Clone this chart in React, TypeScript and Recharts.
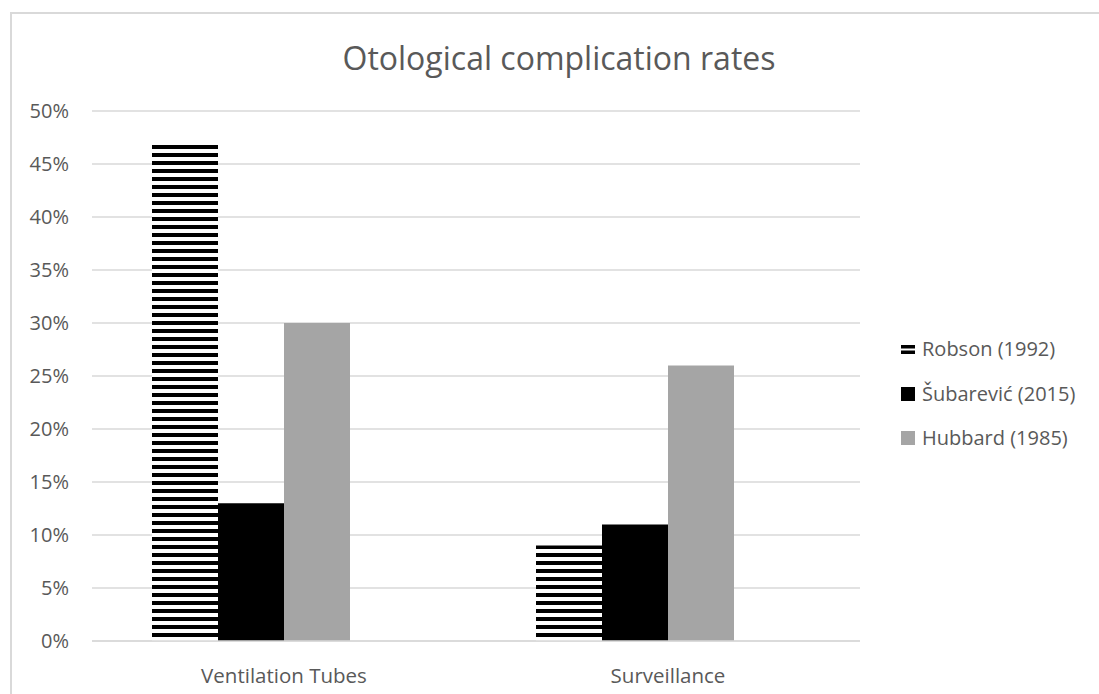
import React from "react";
import { BarChart, Bar, XAxis, YAxis, CartesianGrid } from "recharts";

const categories = ["Ventilation Tubes", "Surveillance"];
const robson = [0.47, 0.09];
const subarevic = [0.13, 0.11];
const hubbard = [0.3, 0.26];
const yTicks = [0, 0.05, 0.1, 0.15, 0.2, 0.25, 0.3, 0.35, 0.4, 0.45, 0.5];
const seriesNames = ["Robson (1992)", "Šubarević (2015)", "Hubbard (1985)"];

const data = categories.map((c, i) => ({
  name: c,
  robson: robson[i],
  subarevic: subarevic[i],
  hubbard: hubbard[i],
  blank: null as number | null,
}));

const FONT = "'Open Sans', sans-serif";
const TEXT = "#595959";

function LegendIcon({ kind }: { kind: number }) {
  if (kind === 0) {
    return (
      <svg width={14} height={14} style={{ display: "block" }}>
        <rect x={0} y={3} width={14} height={3.5} fill="#000" />
        <rect x={0} y={8.5} width={14} height={3.5} fill="#000" />
      </svg>
    );
  }
  return (
    <svg width={14} height={14} style={{ display: "block" }}>
      <rect x={0} y={0} width={14} height={14} fill={kind === 1 ? "#000" : "#a5a5a5"} />
    </svg>
  );
}

export default function App() {
  return (
    <div style={{ position: "absolute", left: 0, top: 0, width: 1099, height: 694, overflow: "hidden", background: "#fff" }}>
      <svg width={0} height={0} style={{ position: "absolute" }}>
        <defs>
          <pattern id="stripes" patternUnits="userSpaceOnUse" width={8} height={8} x={0} y={1}>
            <rect x={0} y={0} width={8} height={4} fill="#000" />
            <rect x={0} y={4} width={8} height={4} fill="#fff" />
          </pattern>
        </defs>
      </svg>
      <div
        style={{
          position: "absolute",
          left: 10,
          top: 12,
          width: 1200,
          height: 800,
          border: "2px solid #d9d9d9",
          boxSizing: "border-box",
        }}
      />
      <div
        style={{
          position: "absolute",
          left: 0,
          width: 1118,
          top: 36,
          textAlign: "center",
          fontFamily: FONT,
          fontSize: 32,
          lineHeight: "44px",
          color: TEXT,
        }}
      >
        Otological complication rates
      </div>
      <div style={{ position: "absolute", left: 0, top: 0 }}>
        <BarChart
          width={1099}
          height={694}
          data={data}
          margin={{ top: 111, right: 239, left: 32, bottom: 23 }}
          barCategoryGap={60}
          barGap={0}
        >
          <CartesianGrid vertical={false} stroke="#d9d9d9" strokeWidth={1.5} />
          <XAxis
            dataKey="name"
            axisLine={{ stroke: "#d9d9d9", strokeWidth: 1.5 }}
            tickLine={false}
            tickSize={0}
            tickMargin={27}
            height={30}
            tick={{ fill: TEXT, fontSize: 20.5, fontFamily: FONT }}
          />
          <YAxis
            width={60}
            domain={[0, 0.5]}
            ticks={yTicks}
            axisLine={false}
            tickLine={false}
            tickSize={0}
            tickMargin={23}
            tickFormatter={(v: number) => `${Math.round(v * 100)}%`}
            tick={{ fill: TEXT, fontSize: 20, fontFamily: FONT }}
          />
          <Bar dataKey="robson" fill="url(#stripes)" isAnimationActive={false} />
          <Bar dataKey="subarevic" fill="#000000" isAnimationActive={false} />
          <Bar dataKey="hubbard" fill="#a5a5a5" isAnimationActive={false} />
          <Bar dataKey="blank" fill="none" legendType="none" isAnimationActive={false} />
        </BarChart>
      </div>
      <div style={{ position: "absolute", left: 901, top: 327, fontFamily: FONT, fontSize: 20, color: TEXT }}>
        {seriesNames.map((n) => (
          <div key={n} style={{ display: "flex", alignItems: "center", height: 44.5 }}>
            <LegendIcon kind={seriesNames.indexOf(n)} />
            <span style={{ marginLeft: 7, lineHeight: "28px", whiteSpace: "nowrap" }}>{n}</span>
          </div>
        ))}
      </div>
    </div>
  );
}
